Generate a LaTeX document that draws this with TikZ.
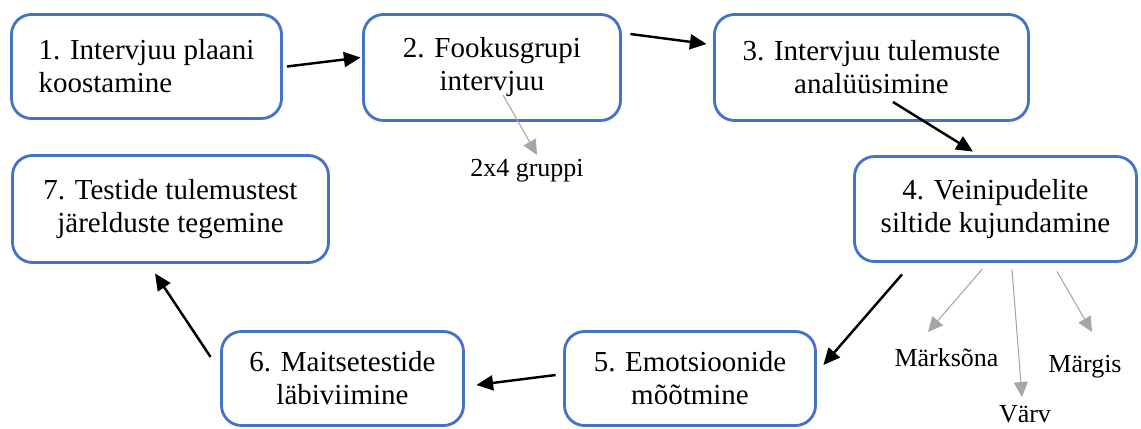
\documentclass[tikz,border=0pt]{standalone}
\usepackage{fontspec}
\setmainfont{Liberation Serif}
\newfontfamily\stepfont{Liberation Serif}
\usetikzlibrary{arrows.meta,calc}
\definecolor{flBlue}{HTML}{4472C4}
\definecolor{flGray}{HTML}{A6A6A6}
\tikzset{
  % Step box (blue outline)
  stepbox/.style={rectangle,rounded corners=0.4cm,
    draw=flBlue,line width=1.6pt,fill=white,
    align=center,inner sep=0pt,
    font=\stepfont\fontsize{16.5}{18.8}\selectfont},
  % Side note under a step
  note/.style={anchor=base,inner sep=0pt,
    font=\stepfont\fontsize{14.8}{17}\selectfont},
  % Arrows
  arr/.style={-{Triangle[length=9.5pt,width=8.5pt]},line width=1.4pt,color=black},
  arrg/.style={-{Triangle[length=8.5pt,width=8pt]},line width=0.6pt,color=flGray},
}
\begin{document}
\begin{tikzpicture}
  \useasboundingbox (0,0) rectangle (22.82,8.56);

  % Steps
  \node[stepbox,align=left,minimum width=5.40cm,minimum height=2.08cm] (s1)
    at (2.93,7.23) {1. Intervjuu plaani\\koostamine};
  \node[stepbox,minimum width=5.14cm,minimum height=2.12cm] (s2)
    at (9.84,7.21) {2. Fookusgrupi\\intervjuu};
  \node[stepbox,minimum width=6.28cm,minimum height=2.12cm] (s3)
    at (17.43,7.21) {3. Intervjuu tulemuste\\analüüsimine};
  \node[stepbox,minimum width=5.64cm,minimum height=2.10cm] (s4)
    at (19.91,4.38) {4. Veinipudelite\\siltide kujundamine};
  \node[stepbox,minimum width=5.02cm,minimum height=1.88cm] (s5)
    at (13.80,0.99) {5. Emotsioonide\\mõõtmine};
  \node[stepbox,minimum width=4.84cm,minimum height=1.88cm] (s6)
    at (6.85,0.99) {6. Maitsetestide\\läbiviimine};
  \node[stepbox,minimum width=6.32cm,minimum height=2.14cm] (s7)
    at (3.41,4.38) {7. Testide tulemustest\\järelduste tegemine};

  % Notes
  \node[note] (grp) at (10.54,5.04) {2x4 gruppi};
  \node[note] (mrk) at (18.93,1.24) {Märksõna};
  \node[note] (vrv) at (20.50,0.12) {Värv};
  \node[note] (mrg) at (21.70,1.12) {Märgis};

  % Main flow
  \draw[arr] ($(s1.east)+(0.08,0)$) -- ($(s2.west)+(-0.03,0.2)$);
  \draw[arr] ($(s2.east)+(0.17,0.67)$) -- ($(s3.west)+(-0.13,0.47)$);
  \draw[arr] ($(s3.center)+(0.43,-0.69)$) -- ($(s4.north)+(-0.45,0.07)$);
  \draw[arr] ($(s4.south)+(-1.87,-0.23)$) -- ($(s5.east)+(0.13,0.27)$);
  \draw[arr] ($(s5.west)+(-0.15,0.07)$) -- ($(s6.east)+(0.23,-0.13)$);
  \draw[arr] ($(s6.west)+(-0.19,0.43)$) -- ($(s7.south)+(-0.31,-0.19)$);

  % Notes arrows
  \draw[arrg] ($(s2.center)+(0.22,-0.55)$) -- ($(grp.base)+(0.2,0.42)$);
  \draw[arrg] ($(s4.south)+(-0.27,-0.13)$) -- ($(mrk.base)+(-0.37,0.68)$);
  \draw[arrg] ($(s4.south)+(0.33,-0.13)$) -- ($(vrv.base)+(-0.06,0.50)$);
  \draw[arrg] ($(s4.south)+(1.23,-0.17)$) -- ($(mrg.base)+(0.14,0.80)$);
\end{tikzpicture}
\end{document}
